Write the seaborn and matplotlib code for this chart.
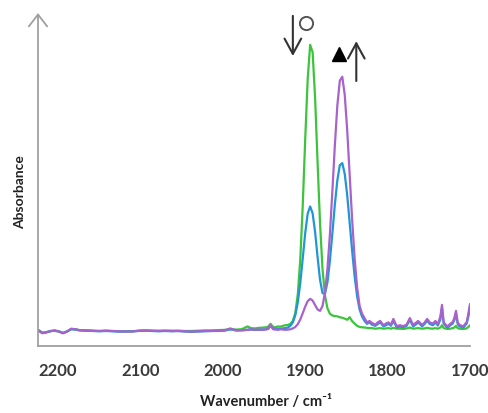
import matplotlib
matplotlib.use("Agg")
import matplotlib.pyplot as plt
import pandas as pd
import seaborn as sns

# ---------------- data ----------------
wn_left = [2224, 2219, 2214, 2209, 2204, 2199, 2194, 2189, 2184, 2179, 2174, 2166, 2158, 2150,
           2142, 2134, 2126, 2118, 2110, 2102, 2094, 2086, 2078, 2070, 2062, 2054, 2046, 2038,
           2030, 2022, 2014, 2006, 1998, 1991, 1984, 1977, 1970, 1966, 1961, 1956, 1951, 1947, 1945]
wn_peak = [1942, 1939, 1936, 1933, 1930, 1927, 1924, 1921, 1918, 1915, 1912, 1909, 1906, 1903,
           1900, 1897, 1894, 1891, 1888, 1885, 1882, 1879, 1876, 1873, 1870, 1867, 1864, 1861,
           1858, 1855, 1852, 1849, 1846, 1843, 1840, 1837, 1834, 1831, 1828, 1825, 1822]
wn_right = [1819, 1815, 1812, 1809, 1805, 1802, 1799, 1796, 1793, 1789, 1785, 1781, 1777, 1773,
            1769, 1766, 1763, 1758, 1755, 1752, 1749, 1745, 1742, 1739, 1736, 1734, 1732, 1729,
            1727, 1724, 1721, 1719, 1717, 1715, 1713, 1710, 1708, 1704, 1702, 1700]

green_left = [0.001, -0.007, -0.004, 0.000, 0.001, -0.002, -0.007, -0.002, 0.007, 0.006,
              0.003, 0.002, 0.001, 0.000, 0.001, 0.000, -0.001, -0.001, -0.001, 0.001,
              0.002, 0.001, 0.001, 0.001, 0.001, 0.001, 0.000, 0.000, 0.001, 0.002,
              0.002, 0.003, 0.004, 0.006, 0.005, 0.006, 0.016, 0.010, 0.009, 0.011,
              0.012, 0.013, 0.015]
green_peak = [0.025, 0.014, 0.013, 0.016, 0.015, 0.018, 0.020, 0.021, 0.025, 0.035,
              0.063, 0.128, 0.249, 0.436, 0.668, 0.877, 0.997, 0.971, 0.812, 0.589,
              0.375, 0.216, 0.123, 0.079, 0.060, 0.054, 0.052, 0.051, 0.048, 0.046,
              0.043, 0.039, 0.048, 0.034, 0.026, 0.018, 0.014, 0.013, 0.012, 0.011, 0.010]
green_right = [0.010, 0.008, 0.009, 0.010, 0.008, 0.009, 0.010, 0.008, 0.011, 0.008,
               0.008, 0.007, 0.009, 0.012, 0.008, 0.009, 0.010, 0.008, 0.009, 0.011,
               0.009, 0.008, 0.010, 0.008, 0.012, 0.020, 0.010, 0.008, 0.007, 0.008,
               0.010, 0.012, 0.018, 0.010, 0.008, 0.007, 0.007, 0.009, 0.014, 0.020]

blue_left = [0.004, -0.006, -0.005, -0.001, 0.002, -0.001, -0.007, -0.001, 0.006, 0.005,
             0.002, 0.001, 0.000, -0.001, 0.000, -0.001, -0.002, -0.002, -0.001, 0.000,
             0.001, 0.000, -0.001, 0.000, -0.001, 0.000, -0.002, -0.003, -0.002, -0.001,
             0.000, 0.000, 0.001, 0.006, 0.002, 0.002, 0.004, 0.005, 0.004, 0.004,
             0.005, 0.006, 0.007]
blue_peak = [0.018, 0.008, 0.007, 0.008, 0.008, 0.009, 0.010, 0.012, 0.018, 0.030,
             0.055, 0.100, 0.167, 0.253, 0.341, 0.409, 0.434, 0.410, 0.345, 0.258,
             0.178, 0.132, 0.130, 0.170, 0.246, 0.342, 0.441, 0.525, 0.578, 0.585,
             0.547, 0.472, 0.376, 0.278, 0.190, 0.121, 0.075, 0.050, 0.035, 0.025, 0.030]
blue_right = [0.022, 0.018, 0.024, 0.030, 0.016, 0.020, 0.025, 0.018, 0.035, 0.013,
              0.015, 0.013, 0.018, 0.038, 0.016, 0.022, 0.030, 0.016, 0.025, 0.036,
              0.025, 0.020, 0.030, 0.019, 0.040, 0.080, 0.026, 0.015, 0.012, 0.020,
              0.026, 0.038, 0.062, 0.025, 0.017, 0.013, 0.012, 0.026, 0.050, 0.085]

purple_left = [0.002, -0.008, -0.004, 0.000, 0.001, -0.002, -0.008, -0.002, 0.008, 0.006,
               0.003, 0.002, 0.001, 0.000, 0.001, 0.000, -0.001, -0.002, -0.002, 0.001,
               0.002, 0.001, 0.000, 0.001, 0.000, 0.000, -0.001, -0.002, -0.001, 0.000,
               0.000, 0.001, 0.002, 0.009, 0.002, 0.003, 0.004, 0.006, 0.004, 0.005,
               0.004, 0.006, 0.008]
purple_peak = [0.020, 0.006, 0.005, 0.004, 0.006, 0.005, 0.004, 0.005, 0.006, 0.009,
               0.014, 0.024, 0.040, 0.062, 0.085, 0.104, 0.112, 0.106, 0.090, 0.075,
               0.070, 0.087, 0.134, 0.217, 0.338, 0.489, 0.648, 0.786, 0.872, 0.886,
               0.822, 0.698, 0.542, 0.386, 0.252, 0.152, 0.088, 0.060, 0.045, 0.030, 0.035]
purple_right = [0.028, 0.022, 0.030, 0.035, 0.020, 0.026, 0.030, 0.022, 0.042, 0.017,
                0.020, 0.017, 0.022, 0.045, 0.021, 0.028, 0.035, 0.021, 0.030, 0.042,
                0.030, 0.026, 0.035, 0.024, 0.050, 0.091, 0.031, 0.020, 0.017, 0.025,
                0.031, 0.045, 0.070, 0.030, 0.022, 0.018, 0.017, 0.031, 0.060, 0.094]

series_names = ["green", "blue", "purple"]
tick_values = [2200, 2100, 2000, 1900, 1800, 1700]

# ---------------- build table ----------------
wavenumber = wn_left + wn_peak + wn_right
values = {
    "green": green_left + green_peak + green_right,
    "blue": blue_left + blue_peak + blue_right,
    "purple": purple_left + purple_peak + purple_right,
}
rows = []
for name in series_names:
    for w, a in zip(wavenumber, values[name]):
        rows.append((w, a, name))
df = pd.DataFrame(rows, columns=["wavenumber", "absorbance", "series"])

palette = {"green": "#3cc43c", "blue": "#2096d6", "purple": "#a862cc"}

# ---------------- figure ----------------
sns.set_style("white")
plt.rcParams["font.family"] = ["Lato", "DejaVu Sans"]

W, H = 489, 414
fig = plt.figure(figsize=(W / 100, H / 100), dpi=100)
ax_left, ax_right, ax_top, ax_bot = 38, 470, 14, 347
ax = fig.add_axes([ax_left / W, 1 - ax_bot / H, (ax_right - ax_left) / W, (ax_bot - ax_top) / H])

sns.lineplot(data=df, x="wavenumber", y="absorbance", hue="series", hue_order=series_names,
             palette=palette, estimator=None, sort=False, legend=False, linewidth=1.6, ax=ax)

ax.set_xlim(2224.3, 1700)
ax.set_ylim(-0.0523, 1.108)

grey = "#a0a0a0"
for s in ["top", "right", "left"]:
    ax.spines[s].set_visible(False)
ax.spines["bottom"].set_color(grey)
ax.spines["bottom"].set_linewidth(1.3)

ax.set_xticks(tick_values)
ax.set_xticklabels([str(t) for t in tick_values])
ax.set_yticks([])
ax.tick_params(axis="x", direction="inout", length=7.5, width=1.2, color=grey,
               labelsize=12, labelcolor="#3a3a3a", pad=8)
for lab in ax.get_xticklabels():
    lab.set_fontweight("bold")

# left axis drawn as an arrow
ax.annotate("", xy=(0, 1), xytext=(0, 0), xycoords="axes fraction", textcoords="axes fraction",
            arrowprops=dict(arrowstyle="->,head_length=0.43,head_width=0.33", color=grey,
                            lw=1.3, shrinkA=0, shrinkB=0, mutation_scale=20),
            annotation_clip=False)

ax.set_xlabel("Wavenumber / cm\u207b\u00b9", fontsize=10.5, fontweight="bold", color="#222222")
ax.xaxis.set_label_coords(0.528, -0.143)
ax.set_ylabel("Absorbance", fontsize=10, fontweight="bold", color="#222222")
ax.yaxis.set_label_coords(-0.028, 0.464)

# arrows and symbols
arrow_props = dict(arrowstyle="->,head_length=0.55,head_width=0.3", color="#333333",
                   lw=1.5, shrinkA=0, shrinkB=0, mutation_scale=20)
ax.annotate("", xy=(1915, 0.958), xytext=(1915, 1.098), arrowprops=arrow_props,
            annotation_clip=False)
ax.annotate("", xy=(1838, 1.010), xytext=(1838, 0.871), arrowprops=arrow_props,
            annotation_clip=False)
ax.plot([1899], [1.073], marker="o", markersize=9.5, markerfacecolor="none",
        markeredgecolor="#555555", markeredgewidth=1.4, clip_on=False)
ax.plot([1859], [0.965], marker="^", markersize=10, color="black", clip_on=False)

fig.savefig("out.png", dpi=100, facecolor="white")
